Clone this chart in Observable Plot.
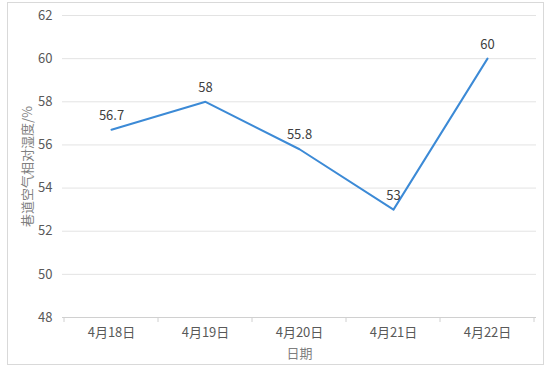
<!DOCTYPE html>
<html><head><meta charset="utf-8">
<script src="https://cdn.jsdelivr.net/npm/d3@7"></script>
<script src="https://cdn.jsdelivr.net/npm/@observablehq/plot@0.6"></script>
<style>
body{margin:0;background:#fff;}
#wrap{position:relative;width:550px;height:370px;}
#border{position:absolute;left:7px;top:2px;width:537px;height:363px;border:1px solid #d9d9d9;pointer-events:none;box-sizing:border-box;}
</style></head>
<body><div id="wrap"><div id="border"></div></div>
<script>
const dates = ["4月18日","4月19日","4月20日","4月21日","4月22日"];
const humidity = [56.7, 58, 55.8, 53, 60];
const yTicks = [48,50,52,54,56,58,60,62];

const data = dates.map((d,i)=>({date:d, value:humidity[i]}));
const font = "'Noto Sans CJK SC', 'Noto Sans', sans-serif";

const chart = Plot.plot({
  width: 550, height: 370,
  marginLeft: 62, marginRight: 14, marginTop: 15, marginBottom: 53,
  style: {fontFamily: font, fontSize: "12px", color: "#595959", background: "transparent"},
  x: {type: "point", domain: dates, padding: 0.5, label: null},
  y: {domain: [48, 62], label: null},
  marks: [
    Plot.ruleY(yTicks, {stroke: "#e3e3e3", strokeWidth: 1}),
    Plot.ruleY([48], {stroke: "#d0d0d0", strokeWidth: 1}),
    // band boundary ticks
    (index, scales, values, dims) => {
      const g = d3.create("svg:g");
      const xs = dates.map(d => scales.x(d));
      const step = xs[1] - xs[0];
      const bounds = [xs[0] - step/2, ...xs.map(x => x + step/2)];
      const y0 = dims.height - dims.marginBottom;
      g.selectAll("line").data(bounds).join("line")
        .attr("x1", d => d).attr("x2", d => d)
        .attr("y1", y0).attr("y2", y0 + 5)
        .attr("stroke", "#d0d0d0");
      return g.node();
    },
    Plot.axisY(yTicks, {tickSize: 0, tickPadding: 10, fontSize: 13, fill: "#595959", label: null}),
    Plot.axisX({tickSize: 0, tickPadding: 10, fontSize: 13, fill: "#595959", label: null}),
    Plot.text(["巷道空气相对湿度/%"], {frameAnchor: "left", textAnchor: "middle", dx: -35, rotate: -90, fontSize: 13, fill: "#7f7f7f"}),
    Plot.text(["日期"], {frameAnchor: "bottom", dy: 40, fontSize: 13, fill: "#7f7f7f"}),
    Plot.line(data, {x: "date", y: "value", stroke: "#3c8ad6", strokeWidth: 2}),
    Plot.text(data, {x: "date", y: "value", text: d => String(d.value), dy: -14, fontSize: 13, fill: "#404040"})
  ]
});
document.getElementById("wrap").prepend(chart);
</script>
</body></html>
